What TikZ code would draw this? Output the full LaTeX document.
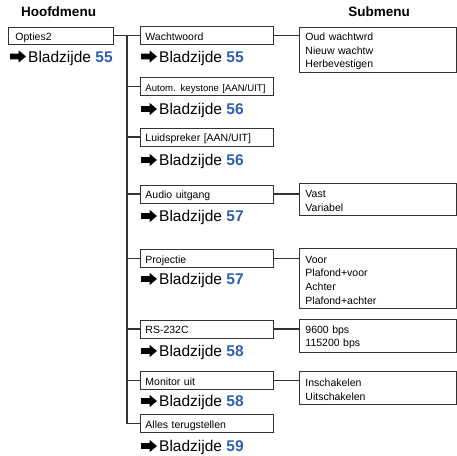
\documentclass[tikz,border=0pt]{standalone}
\usepackage{fontspec}
\setmainfont{Liberation Sans}
\definecolor{pgblue}{HTML}{2E5FAE}
\definecolor{linegray}{HTML}{333333}
\newcommand{\pgnum}[1]{Bladzijde \textcolor{pgblue}{\textbf{#1}}}
\newcommand{\firstline}{\rule{0pt}{11.5pt}}
\tikzset{
  boxbase/.style={draw=linegray, line width=0.9pt, inner ysep=0pt, align=left},
  mbox/.style={boxbase, anchor=west, minimum height=18pt, text width=123pt, text height=9pt, text depth=0pt, inner xsep=5pt, font=\fontsize{10.5}{12}\selectfont},
  smallbox/.style={mbox, font=\fontsize{9.6}{12}\selectfont},
  obox/.style={boxbase, anchor=west, minimum height=17pt, text width=91pt, text height=9pt, text depth=0pt, inner xsep=7pt, font=\fontsize{10.5}{12}\selectfont},
  subbox/.style={boxbase, anchor=west, text width=145pt, inner xsep=6pt, font=\fontsize{10.5}{13.6}\selectfont},
  pgref/.style={anchor=base west, inner sep=0pt, font=\fontsize{15.5}{18}\selectfont},
  hdr/.style={inner sep=0pt, font=\fontsize{13.5}{16}\selectfont\bfseries},
  conn/.style={draw=linegray, line width=1.1pt},
  pgarrow/.pic={\fill[black] (0,-2.9) -- (8.5,-2.9) -- (8.5,-6.2) -- (16,0) -- (8.5,6.2) -- (8.5,2.9) -- (0,2.9) -- cycle;}
}
\begin{document}
\begin{tikzpicture}[x=1pt, y=-1pt]
\useasboundingbox (0,0) rectangle (457,455);
% headers
\node[hdr] (h1) at (58.5,12) {Hoofdmenu};
\node[hdr] (h2) at (379,12) {Submenu};
% main menu
\node[obox] (o) at (8,35.5) {Opties2};
\pic at (10,56.5) {pgarrow};
\node[pgref] (ob) at (28,62) {\pgnum{55}};
% items
\node[mbox] (w) at (140,35.5) {Wachtwoord};
\node[smallbox] (a) at (140,86.5) {Autom. keystone [AAN/UIT]};
\node[mbox] (l) at (140,137) {Luidspreker [AAN/UIT]};
\node[mbox] (au) at (140,194) {Audio uitgang};
\node[mbox] (p) at (140,258.5) {Projectie};
\node[mbox] (r) at (140,329) {RS-232C};
\node[mbox] (m) at (140,380.5) {Monitor uit};
\node[mbox] (al) at (140,423.5) {Alles terugstellen};
% page refs
\pic at (141,56.5) {pgarrow};
\node[pgref] (wb) at (159,62) {\pgnum{55}};
\pic at (141,109) {pgarrow};
\node[pgref] (ab) at (159,114.5) {\pgnum{56}};
\pic at (141,160) {pgarrow};
\node[pgref] (lb) at (159,165.5) {\pgnum{56}};
\pic at (141,216) {pgarrow};
\node[pgref] (aub) at (159,221.5) {\pgnum{57}};
\pic at (141,279) {pgarrow};
\node[pgref] (pb) at (159,284.5) {\pgnum{57}};
\pic at (141,351) {pgarrow};
\node[pgref] (rb) at (159,356.5) {\pgnum{58}};
\pic at (141,401) {pgarrow};
\node[pgref] (mb) at (159,406.5) {\pgnum{58}};
\pic at (141,446) {pgarrow};
\node[pgref] (alb) at (159,451.5) {\pgnum{59}};
% submenus
\node[subbox, minimum height=45pt] (s1) at (299,49.5) {\firstline Oud wachtwrd\\Nieuw wachtw\\Herbevestigen};
\node[subbox, minimum height=32pt] (s2) at (299,199) {\firstline Vast\\Variabel};
\node[subbox, minimum height=60pt] (s3) at (299,278) {\firstline Voor\\Plafond+voor\\Achter\\Plafond+achter};
\node[subbox, minimum height=33pt] (s4) at (299,335.5) {\firstline 9600 bps\\115200 bps};
\node[subbox, minimum height=33pt] (s5) at (299,387.5) {\firstline Inschakelen\\Uitschakelen};
% connectors
\coordinate (tt) at (127,35.5);
\draw[conn] (o.east) -- (w.west);
\draw[conn] (tt) |- (al.west);
\foreach \n in {a,l,au,p,r,m}{\draw[conn] (\n.west -| tt) -- (\n.west);}
\draw[conn] (w.east) -- (w.east -| s1.west);
\draw[conn] (au.east) -- (au.east -| s2.west);
\draw[conn] (p.east) -- (p.east -| s3.west);
\draw[conn] (r.east) -- (r.east -| s4.west);
\draw[conn] (m.east) -- (m.east -| s5.west);
\end{tikzpicture}
\end{document}
